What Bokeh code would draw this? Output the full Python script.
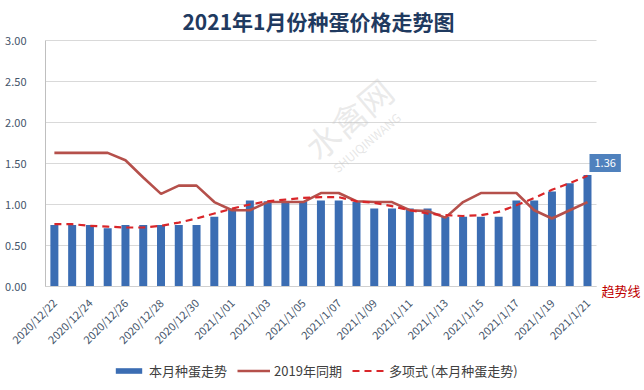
import math
from bokeh.plotting import figure
from bokeh.models import (ColumnDataSource, Label, Legend, LegendItem, FixedTicker,
                          NumeralTickFormatter, Range1d)
from bokeh.embed import file_html
from bokeh.resources import INLINE

dates = ["2020/12/22", "2020/12/23", "2020/12/24", "2020/12/25", "2020/12/26", "2020/12/27",
         "2020/12/28", "2020/12/29", "2020/12/30", "2020/12/31", "2021/1/01", "2021/1/02",
         "2021/1/03", "2021/1/04", "2021/1/05", "2021/1/06", "2021/1/07", "2021/1/08",
         "2021/1/09", "2021/1/10", "2021/1/11", "2021/1/12", "2021/1/13", "2021/1/14",
         "2021/1/15", "2021/1/16", "2021/1/17", "2021/1/18", "2021/1/19", "2021/1/20",
         "2021/1/21"]
this_month = [0.75, 0.75, 0.75, 0.71, 0.75, 0.75, 0.75, 0.75, 0.75, 0.85, 0.95, 1.05,
              1.04, 1.04, 1.04, 1.05, 1.05, 1.03, 0.95, 0.95, 0.95, 0.95, 0.85, 0.85,
              0.85, 0.85, 1.05, 1.05, 1.16, 1.26, 1.36]
same_2019 = [1.63, 1.63, 1.63, 1.63, 1.54, 1.33, 1.13, 1.23, 1.23, 1.03, 0.93, 0.93,
             1.03, 1.03, 1.03, 1.14, 1.14, 1.04, 1.03, 1.03, 0.93, 0.92, 0.84, 1.03,
             1.14, 1.14, 1.14, 0.93, 0.83, 0.93, 1.03]
trend = [0.76, 0.76, 0.74, 0.73, 0.72, 0.72, 0.74, 0.78, 0.83, 0.89, 0.95, 1.00,
         1.04, 1.06, 1.08, 1.09, 1.09, 1.04, 1.02, 0.98, 0.93, 0.89, 0.87, 0.86,
         0.87, 0.91, 0.99, 1.08, 1.18, 1.26, 1.35]
y_ticks = [0, 0.5, 1.0, 1.5, 2.0, 2.5, 3.0]

idx = list(range(len(dates)))
n = len(dates)
src = ColumnDataSource(dict(x=idx, bar=this_month, ly=same_2019, tr=trend))

FONT = "Noto Sans CJK SC"

# frame spans the whole figure so that title, labels and legend are not clipped;
# both axes are pinned at fixed data locations
p = figure(width=644, height=390, output_backend="svg", toolbar_location=None,
           x_range=Range1d(-3.032, 33.208), y_range=Range1d(-1.268, 3.488),
           min_border_left=0, min_border_right=0, min_border_top=0, min_border_bottom=0)
p.outline_line_color = None
p.background_fill_color = "white"

bars = p.vbar(x="x", top="bar", width=0.45, source=src, fill_color="#3b6db3", line_color=None)
ln = p.line(x="x", y="ly", source=src, line_color="#b5504b", line_width=2.6)
tr = p.line(x="x", y="tr", source=src, line_color="#d9262a", line_width=2.2, line_dash="7 5")

# axes
p.xaxis.fixed_location = 0
p.xaxis.bounds = (-0.5, n - 0.5)
p.xaxis.ticker = FixedTicker(ticks=idx[::2])
p.xaxis.major_label_overrides = {i: dates[i] for i in idx}
p.xaxis.major_label_orientation = math.pi / 4
p.xaxis.major_label_text_font = FONT
p.xaxis.major_label_text_font_size = "11px"
p.xaxis.major_label_text_color = "#44546a"
p.xaxis.major_tick_line_color = None
p.xaxis.minor_tick_line_color = None
p.xaxis.axis_line_color = "#d0d0d0"
p.xaxis.major_label_standoff = 8

p.yaxis.fixed_location = -0.5
p.yaxis.bounds = (0, 3)
p.yaxis.ticker = FixedTicker(ticks=y_ticks)
p.yaxis.formatter = NumeralTickFormatter(format="0.00")
p.yaxis.major_label_text_font = FONT
p.yaxis.major_label_text_font_size = "11px"
p.yaxis.major_label_text_color = "#44546a"
p.yaxis.major_tick_line_color = None
p.yaxis.minor_tick_line_color = None
p.yaxis.axis_line_color = "#bfbfbf"
p.yaxis.major_label_standoff = 13

p.xgrid.grid_line_color = None
p.ygrid.grid_line_color = "#d9d9d9"
p.ygrid.cross_bounds = (-0.5, n - 0.5)

# watermark
p.add_layout(Label(x=16.55, y=2.05, text="水禽网", angle=0.70, text_font=FONT,
                   text_font_size="34px", text_color="#c8c8c8", text_alpha=0.38,
                   text_align="center", text_baseline="middle"))
p.add_layout(Label(x=17.56, y=1.76, text="SHUIQINWANG", angle=0.70, text_font=FONT,
                   text_font_size="12px", text_color="#c8c8c8", text_alpha=0.45,
                   text_align="center", text_baseline="middle"))

# title
p.add_layout(Label(x=14.86, y=3.244, text="2021年1月份种蛋价格走势图", text_font=FONT,
                   text_font_size="21px", text_font_style="bold", text_color="#1f3a60",
                   text_align="center", text_baseline="middle"))

# last value label
last = n - 1
p.add_layout(Label(x=last, y=this_month[last], text="%.2f" % this_month[last], x_offset=2,
                   y_offset=12, text_font=FONT, text_font_size="11px", text_color="white",
                   text_align="left", text_baseline="middle", background_fill_color="#4f81bd",
                   padding=5))

# trend text
p.add_layout(Label(x=last, y=0, text="趋势线", x_offset=14, y_offset=-4, text_font=FONT,
                   text_font_size="13px", text_color="#c00000", text_align="left",
                   text_baseline="middle"))

legend = Legend(items=[LegendItem(label="本月种蛋走势", renderers=[bars]),
                       LegendItem(label="2019年同期", renderers=[ln]),
                       LegendItem(label="多项式 (本月种蛋走势)", renderers=[tr])],
                orientation="horizontal", location=(112, 10))
legend.glyph_width = 33
legend.glyph_height = 7
legend.label_height = 16
legend.label_standoff = 4
legend.spacing = 10
legend.padding = 0
legend.margin = 0
legend.border_line_color = None
legend.background_fill_alpha = 0
legend.label_text_font = FONT
legend.label_text_font_size = "13px"
legend.label_text_color = "#404040"
p.add_layout(legend, "center")

open("out.html", "w").write(file_html(p, INLINE))
